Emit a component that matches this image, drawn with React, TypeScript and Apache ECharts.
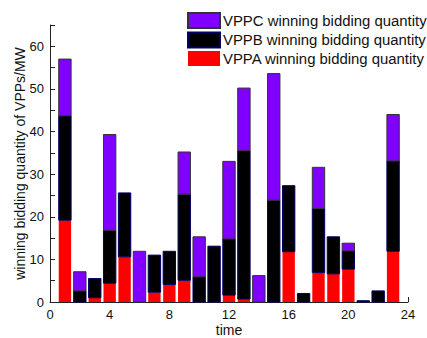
import React, { useEffect, useRef } from "react";
import * as echarts from "echarts";

const times = [1, 2, 3, 4, 5, 6, 7, 8, 9, 10, 11, 12, 13, 14, 15, 16, 17, 18, 19, 20, 21, 22, 23];
const vppA = [19.2, 0, 1.0, 4.4, 10.6, 0, 2.3, 4.1, 5.1, 0, 0, 1.6, 0.7, 0, 0, 11.8, 0, 6.9, 6.6, 7.7, 0, 0, 11.9];
const vppB = [24.5, 2.6, 4.5, 12.4, 15.0, 0, 8.7, 7.8, 20.2, 5.9, 13.1, 13.2, 34.8, 0, 23.9, 15.5, 2.0, 15.0, 8.7, 4.3, 0.3, 2.6, 21.2];
const vppC = [13.3, 4.5, 0, 22.5, 0, 11.9, 0, 0, 9.9, 9.4, 0, 18.2, 14.7, 6.2, 29.7, 0, 0, 9.7, 0, 1.8, 0, 0, 10.9];

const nameA = "VPPA winning bidding quantity";
const nameB = "VPPB winning bidding quantity";
const nameC = "VPPC winning bidding quantity";

const font = "Liberation Sans, Arial, sans-serif";
const BAR_W = 0.83; // in x-axis units

function stacked(arr: number[], bases: number[][]) {
  return times.map((t, i) => {
    const base = bases.reduce((s, b) => s + b[i], 0);
    return [t, base, base + arr[i]];
  });
}

function makeRender(fill: string, stroke: string, lw: number) {
  return (_params: any, api: any) => {
    const x = api.value(0);
    const y0 = api.value(1);
    const y1 = api.value(2);
    if (y1 - y0 <= 0) return null;
    const p0 = api.coord([x - BAR_W / 2, y0]);
    const p1 = api.coord([x + BAR_W / 2, y1]);
    return {
      type: "rect",
      shape: { x: p0[0], y: p1[1], width: p1[0] - p0[0], height: p0[1] - p1[1] },
      style: { fill, stroke: lw > 0 ? stroke : null, lineWidth: lw },
    };
  };
}

export default function App() {
  const ref = useRef<HTMLDivElement>(null);
  useEffect(() => {
    if (!ref.current) return;
    const chart = echarts.init(ref.current, null, { renderer: "svg" });
    chart.setOption({
      animation: false,
      textStyle: { fontFamily: font },
      grid: { left: 50, right: 19, top: 25, bottom: 36, containLabel: false, outerBoundsMode: "none" },
      legend: {
        orient: "vertical",
        left: 187,
        top: 12,
        padding: 0,
        itemWidth: 32,
        itemHeight: 15,
        itemGap: 2.5,
        data: [nameC, nameB, nameA],
        icon: "rect",
        textStyle: { fontSize: 14.9, lineHeight: 15, color: "#111", fontFamily: font, padding: [0, 0, 0, -2] },
      },
      xAxis: {
        type: "value",
        min: 0,
        max: 24,
        interval: 4,
        name: "time",
        nameLocation: "middle",
        nameGap: 21,
        nameMoveOverlap: false,
        nameTextStyle: { fontSize: 14, lineHeight: 14, color: "#111", fontFamily: font },
        axisLine: { show: true, lineStyle: { color: "#222", width: 1 } },
        axisTick: { show: true, inside: true, length: 5, lineStyle: { color: "#222" } },
        minorTick: { show: true, splitNumber: 2, length: 3, lineStyle: { color: "#222" } },
        axisLabel: { fontSize: 13, lineHeight: 13, color: "#111", margin: 6, fontFamily: font },
        splitLine: { show: false },
      },
      yAxis: {
        type: "value",
        min: 0,
        max: 65,
        interval: 10,
        name: "winning bidding quantity of VPPs/MW",
        nameLocation: "middle",
        nameGap: 23,
        nameMoveOverlap: false,
        nameTextStyle: { fontSize: 14, color: "#111", fontFamily: font },
        axisLine: { show: true, lineStyle: { color: "#222", width: 1 } },
        axisTick: { show: true, inside: true, length: 5, lineStyle: { color: "#222" } },
        minorTick: { show: true, splitNumber: 2, length: 5, lineStyle: { color: "#222" } },
        axisLabel: { fontSize: 13, color: "#111", margin: 6, fontFamily: font, showMaxLabel: false },
        splitLine: { show: false },
      },
      series: [
        {
          name: nameA,
          type: "custom",
          renderItem: makeRender("#ff0000", "#ff0000", 0),
          encode: { x: 0, y: [1, 2] },
          data: stacked(vppA, []),
          itemStyle: { color: "#ff0000" },
        },
        {
          name: nameB,
          type: "custom",
          renderItem: makeRender("#000000", "#000066", 1),
          encode: { x: 0, y: [1, 2] },
          data: stacked(vppB, [vppA]),
          itemStyle: { color: "#000000", borderColor: "#000066", borderWidth: 1 },
        },
        {
          name: nameC,
          type: "custom",
          renderItem: makeRender("#7f00ff", "#333333", 1),
          encode: { x: 0, y: [1, 2] },
          data: stacked(vppC, [vppA, vppB]),
          itemStyle: { color: "#7f00ff", borderColor: "#333333", borderWidth: 1 },
        },
      ],
    });
    return () => chart.dispose();
  }, []);
  return (
    <div
      ref={ref}
      style={{ position: "fixed", left: 0, top: 0, width: 427, height: 338, background: "#fff" }}
    />
  );
}
